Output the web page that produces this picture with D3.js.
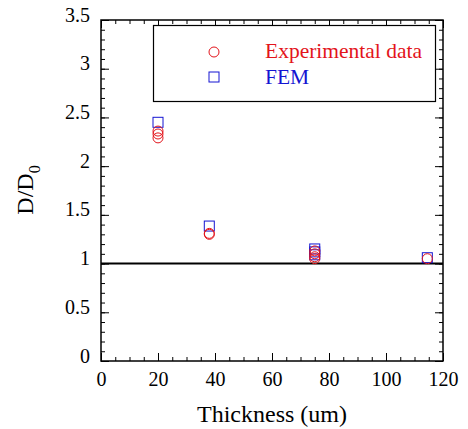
<!DOCTYPE html>
<html>
<head>
<meta charset="utf-8">
<script src="https://cdn.jsdelivr.net/npm/d3@7/dist/d3.min.js"></script>
<style>
  body { margin: 0; background: #fff; }
</style>
</head>
<body>
<div id="chart"></div>
<script>
// data
var expThickness = [20, 20, 20, 38, 38, 75, 75, 75, 75, 114.5];
var expRatio     = [2.36, 2.33, 2.29, 1.31, 1.30, 1.13, 1.10, 1.07, 1.05, 1.05];
var femThickness = [20, 38, 75, 75, 75, 114.5];
var femRatio     = [2.45, 1.385, 1.15, 1.12, 1.09, 1.06];
var xTicks = [0, 20, 40, 60, 80, 100, 120];
var yTicks = [0, 0.5, 1, 1.5, 2, 2.5, 3, 3.5];
var refLevel = 1;

(function () {
  var w = 468, h = 429;
  var mLeft = 101, mRight = 443, mTop = 20, mBottom = 361;
  var red = "#e3141b", blue = "#1414d2";
  var serif = "'Liberation Serif', 'Times New Roman', serif";

  var svg = d3.select("#chart").append("svg").attr("width", w).attr("height", h);

  var x = d3.scaleLinear().domain([0, 120]).range([mLeft, mRight]);
  var y = d3.scaleLinear().domain([0, 3.5]).range([mBottom, mTop]);

  /** ticks pointing inward, on all four sides */
  function addAxis(axis, tx, ty, values, size, labels) {
    var g = svg.append("g").attr("transform", "translate(" + tx + "," + ty + ")")
      .call(axis.tickValues(values).tickSizeInner(-size).tickSizeOuter(0)
        .tickFormat(labels ? d3.format("") : function () { return ""; }));
    g.select(".domain").remove();
    g.selectAll(".tick line").attr("stroke", "#000").attr("stroke-width", 1);
    g.selectAll(".tick text").attr("fill", "#000")
      .style("font-family", serif).style("font-size", "20px");
    return g;
  }

  var xMinor = d3.range(0, 121, 5);
  var yMinor = d3.range(0, 36).map(function (d) { return d / 10; });

  addAxis(d3.axisBottom(x), 0, mBottom, xMinor, 4, false);
  addAxis(d3.axisTop(x), 0, mTop, xMinor, 4, false);
  addAxis(d3.axisLeft(y), mLeft, 0, yMinor, 4, false);
  addAxis(d3.axisRight(y), mRight, 0, yMinor, 4, false);

  var gx = addAxis(d3.axisBottom(x), 0, mBottom, xTicks, 8, true);
  gx.selectAll(".tick text").attr("y", 6).attr("dy", "0.95em");
  addAxis(d3.axisTop(x), 0, mTop, xTicks, 8, false);
  var gy = addAxis(d3.axisLeft(y), mLeft, 0, yTicks, 8, true);
  gy.selectAll(".tick text").attr("x", -11).attr("dy", "0.05em");
  addAxis(d3.axisRight(y), mRight, 0, yTicks, 8, false);

  // frame
  svg.append("rect")
    .attr("x", mLeft).attr("y", mTop)
    .attr("width", mRight - mLeft).attr("height", mBottom - mTop)
    .attr("fill", "none").attr("stroke", "#000").attr("stroke-width", 1.5);

  // reference line D/D0 = 1
  svg.append("line")
    .attr("x1", x(0)).attr("x2", x(120))
    .attr("y1", y(refLevel)).attr("y2", y(refLevel))
    .attr("stroke", "#000").attr("stroke-width", 2);

  // FEM squares
  svg.selectAll(".fem").data(d3.zip(femThickness, femRatio)).enter()
    .append("rect").attr("class", "fem")
    .attr("x", function (d) { return x(d[0]) - 5; })
    .attr("y", function (d) { return y(d[1]) - 5; })
    .attr("width", 10).attr("height", 10)
    .attr("fill", "none").attr("stroke", blue).attr("stroke-width", 1);

  // experimental circles
  svg.selectAll(".exp").data(d3.zip(expThickness, expRatio)).enter()
    .append("circle").attr("class", "exp")
    .attr("cx", function (d) { return x(d[0]); })
    .attr("cy", function (d) { return y(d[1]); })
    .attr("r", 5)
    .attr("fill", "none").attr("stroke", red).attr("stroke-width", 1);

  // legend
  var lg = svg.append("g");
  lg.append("rect").attr("x", 153.5).attr("y", 25.5).attr("width", 282).attr("height", 76)
    .attr("fill", "#fff").attr("stroke", "#000").attr("stroke-width", 1.2);
  lg.append("circle").attr("cx", 214).attr("cy", 52).attr("r", 5)
    .attr("fill", "none").attr("stroke", red);
  lg.append("text").attr("x", 265).attr("y", 58)
    .style("font-family", serif).style("font-size", "21.5px")
    .attr("fill", red).text("Experimental data");
  lg.append("rect").attr("x", 209).attr("y", 72).attr("width", 10).attr("height", 10)
    .attr("fill", "none").attr("stroke", blue);
  lg.append("text").attr("x", 265).attr("y", 84)
    .style("font-family", serif).style("font-size", "21.5px")
    .attr("fill", blue).text("FEM");

  // axis titles
  svg.append("text").attr("x", (mLeft + mRight) / 2).attr("y", 422)
    .attr("text-anchor", "middle")
    .style("font-family", serif).style("font-size", "24px").text("Thickness (um)");
  var yl = svg.append("text").attr("transform", "translate(33,190) rotate(-90)")
    .attr("text-anchor", "middle")
    .style("font-family", serif).style("font-size", "24px");
  yl.append("tspan").text("D/D");
  yl.append("tspan").style("font-size", "16px").attr("dy", 7).text("0");
})();
</script>
</body>
</html>
